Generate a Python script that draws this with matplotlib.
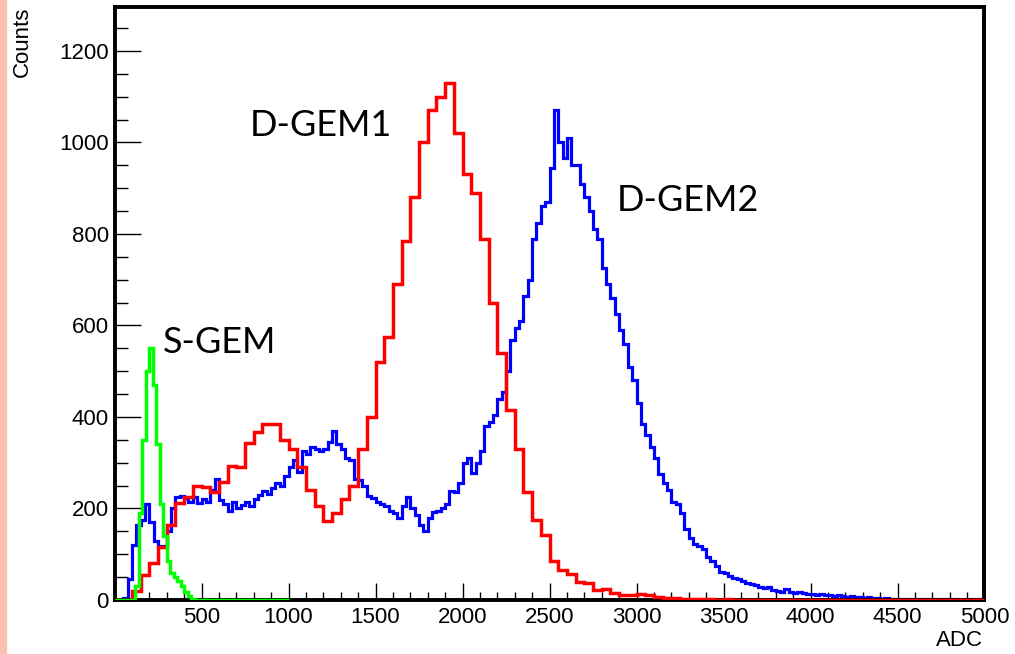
import numpy as np
import matplotlib.pyplot as plt
from matplotlib.patches import Rectangle
from matplotlib.ticker import MultipleLocator, FixedLocator

# D-GEM1 (red), bins of 50 ADC from 0 to 5000
red_width = 50
red_counts = [
    0, 0, 20, 55, 80, 116, 165, 212, 225, 250,
    247, 235, 258, 292, 290, 343, 367, 385, 385, 350,
    330, 290, 240, 205, 172, 190, 220, 250, 330, 400,
    520, 575, 690, 785, 880, 1000, 1070, 1100, 1130, 1020,
    930, 890, 790, 650, 540, 415, 330, 235, 175, 142,
    85, 65, 56, 40, 38, 22, 24, 15, 12, 12,
    14, 12, 7, 5, 4, 3, 2, 2, 2, 1,
    2, 1, 1, 1, 1, 1, 1, 1, 1, 1,
    1, 1, 1, 1, 1, 1, 1, 1, 1, 1,
    1, 1, 1, 1, 1, 1, 1, 1, 1, 1,
]

# D-GEM2 (blue), bins of 25 ADC from 0 to 5000
blue_width = 25
blue_counts = [
    0, 0, 5, 45, 120, 165, 175, 210, 170, 130,
    118, 118, 150, 200, 225, 228, 222, 215, 225, 212,
    220, 215, 240, 265, 218, 210, 195, 215, 200, 208,
    215, 205, 220, 230, 238, 232, 245, 255, 250, 270,
    290, 305, 280, 325, 320, 335, 330, 325, 330, 345,
    370, 340, 330, 310, 305, 265, 262, 250, 228, 222,
    215, 210, 205, 195, 190, 180, 205, 225, 200, 185,
    165, 150, 180, 192, 195, 200, 210, 238, 235, 255,
    300, 310, 278, 300, 325, 380, 390, 405, 440, 455,
    500, 568, 595, 610, 665, 700, 790, 825, 860, 870,
    945, 1070, 1000, 965, 1010, 950, 950, 910, 880, 850,
    810, 790, 725, 690, 660, 625, 590, 560, 510, 480,
    430, 385, 360, 335, 310, 275, 255, 240, 215, 210,
    190, 155, 135, 122, 118, 112, 95, 85, 75, 62,
    60, 52, 48, 46, 42, 38, 36, 32, 28, 27,
    28, 22, 20, 18, 24, 18, 16, 18, 15, 14,
    13, 12, 13, 10, 11, 9, 10, 8, 7, 9,
    6, 7, 5, 6, 4, 5, 3, 4, 2, 3,
    2, 3, 2, 1, 3, 2, 2, 1, 2, 1,
    2, 3, 1, 2, 1, 1, 2, 1, 3, 1,
]

# S-GEM (green), bins of 20 ADC from 0 to 1000
green_width = 20
green_counts = [
    0, 0, 0, 0, 0, 0, 30, 190, 350, 500,
    550, 470, 340, 210, 140, 85, 60, 50, 42, 30,
    18, 8, 3, 1, 0, 0, 0, 0, 0, 0,
    0, 0, 0, 0, 0, 0, 0, 0, 0, 0,
    0, 0, 0, 0, 0, 0, 0, 0, 0, 0,
]

x_ticks = [500, 1000, 1500, 2000, 2500, 3000, 3500, 4000, 4500, 5000]
y_ticks = [0, 200, 400, 600, 800, 1000, 1200]

plt.rcParams['font.family'] = ['Liberation Sans', 'DejaVu Sans']

fig = plt.figure(figsize=(10.15, 6.54), dpi=100)
ax = fig.add_axes([114.5 / 1015, 54 / 654, 870 / 1015, 593 / 654])

# pink strip at left edge of the slide
fig.patches.append(Rectangle((0, 0), 6 / 1015, 1, transform=fig.transFigure,
                             color='#f9c0b0', zorder=0))

red_edges = np.arange(len(red_counts) + 1) * red_width
blue_edges = np.arange(len(blue_counts) + 1) * blue_width
green_edges = np.arange(len(green_counts) + 1) * green_width

ax.stairs(blue_counts, blue_edges, color='#0000ff', lw=2.3, zorder=2)
ax.stairs(red_counts, red_edges, color='#ff0000', lw=2.5, zorder=3)
ax.stairs(green_counts, green_edges, color='#00ff00', lw=2.5, zorder=4)

ax.set_xlim(0, 5000)
ax.set_ylim(0, 1296)

ax.xaxis.set_major_locator(FixedLocator(x_ticks))
ax.xaxis.set_minor_locator(MultipleLocator(100))
ax.yaxis.set_major_locator(FixedLocator(y_ticks))
ax.yaxis.set_minor_locator(MultipleLocator(50))

ax.tick_params(axis='x', which='major', direction='in', length=12, width=1,
               labelsize=16, pad=5, top=False)
ax.tick_params(axis='x', which='minor', direction='in', length=6, width=1, top=False)
ax.tick_params(axis='y', which='major', direction='in', length=19, width=1,
               labelsize=16, pad=4, right=False)
ax.tick_params(axis='y', which='minor', direction='in', length=9.5, width=1, right=False)

for sp in ax.spines.values():
    sp.set_linewidth(2.8)

# labels in slide font
lab_font = dict(fontsize=26, family=['Lato', 'DejaVu Sans'], va='center', ha='left')
ax.text(279, 562, 'S-GEM', **lab_font)
ax.text(779, 1038, 'D-GEM1', **lab_font)
ax.text(2888, 874, 'D-GEM2', **lab_font)

fig.text(22 / 1015, 1 - 42 / 654, 'Counts', rotation=90, ha='center', va='center', fontsize=16)
fig.text(983 / 1015, 1 - 641 / 654, 'ADC', ha='right', va='center', fontsize=16)

fig.savefig('out.png', dpi=100)
